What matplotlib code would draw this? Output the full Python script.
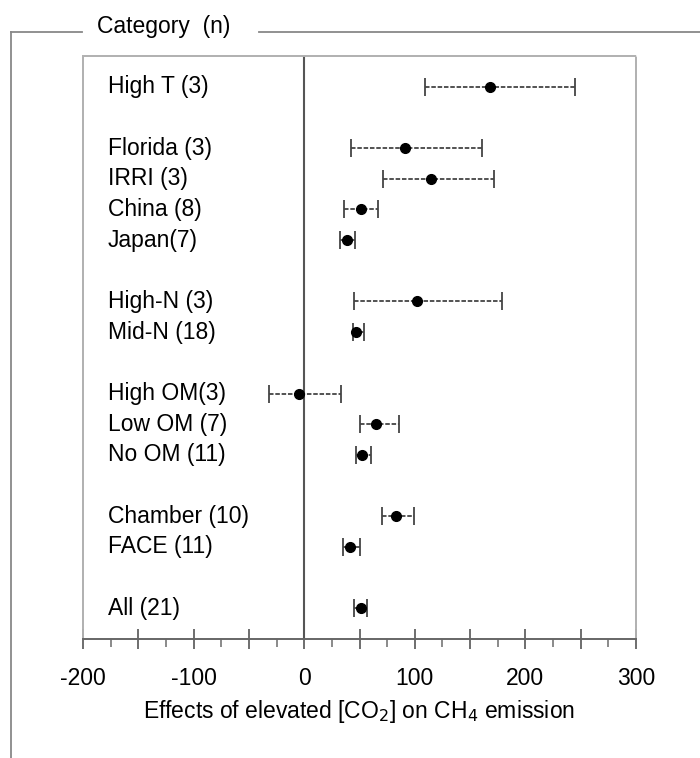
import matplotlib
matplotlib.use("Agg")
import matplotlib.pyplot as plt
from matplotlib.lines import Line2D
from matplotlib.ticker import MultipleLocator

plt.rcParams["font.family"] = ["Liberation Sans", "DejaVu Sans"]

# categories, grouped (a blank row is left between groups)
groups = [
    ["High T (3)"],
    ["Florida (3)", "IRRI (3)", "China (8)", "Japan(7)"],
    ["High-N (3)", "Mid-N (18)"],
    ["High OM(3)", "Low OM (7)", "No OM (11)"],
    ["Chamber (10)", "FACE (11)"],
    ["All (21)"],
]
means = [168, 91, 115, 51, 39, 102, 47, -5, 65, 52, 83, 41, 51]
lower = [109, 42, 71, 36, 32, 45, 44, -32, 50, 47, 70, 35, 45]
upper = [245, 161, 172, 67, 46, 179, 54, 33, 86, 60, 99, 50, 57]
tick_values = [-200, -100, 0, 100, 200, 300]

labels = []
rows = []
r = 0
for g in groups:
    for name in g:
        labels.append(name)
        rows.append(r)
        r += 1
    r += 1
n_rows = r - 1

FS = 16.5
W, H = 700, 758
fig = plt.figure(figsize=(7, 7.58), dpi=100)
ax = fig.add_axes([83 / W, 1 - 639 / H, (636 - 83) / W, (639 - 56) / H])

err = [[m - lo for m, lo in zip(means, lower)], [hi - m for m, hi in zip(means, upper)]]
line, caps, bars = ax.errorbar(means, rows, xerr=err, fmt="o", color="black", ms=7,
                               ecolor="#444444", elinewidth=1.3, capsize=6.5, capthick=1.3)
bars[0].set_linestyle((0, (2.5, 1)))

ax.axvline(0, color="#555555", lw=1.5, zorder=0)

# category names sit inside the axes, left aligned
for name, yy in zip(labels, rows):
    ax.annotate(name, xy=(108 / W, yy), xycoords=("figure fraction", "data"),
                fontsize=FS, va="center", ha="left")

ax.set_xlim(-200, 300)
ax.set_ylim(n_rows, -1)
ax.set_yticks([])
ax.xaxis.set_major_locator(MultipleLocator(50))
ax.xaxis.set_minor_locator(MultipleLocator(25))
ax.set_xticks(range(-200, 301, 50))
ax.set_xticklabels([str(v) if v in tick_values else "" for v in range(-200, 301, 50)])
ax.tick_params(axis="x", which="major", direction="inout", length=14, width=1.2,
               color="#555555", labelsize=FS, pad=13)
ax.tick_params(axis="x", which="minor", direction="out", length=6, width=1.2, color="#777777")
ax.set_xlabel("Effects of elevated [CO$_2$] on CH$_4$ emission", fontsize=FS, labelpad=6)

for s in ["left", "top", "right"]:
    ax.spines[s].set_color("#b0b0b0")
    ax.spines[s].set_linestyle((0, (2, 1)))
    ax.spines[s].set_linewidth(1.4)
ax.spines["bottom"].set_color("#666666")
ax.spines["bottom"].set_linewidth(1.4)

# outer bracket with title
kw = dict(color="#888888", lw=1.3, transform=fig.transFigure)
fig.add_artist(Line2D([11 / W, 11 / W], [1 - 32 / H, 0], **kw))
fig.add_artist(Line2D([11 / W, 82 / W], [1 - 32 / H, 1 - 32 / H], **kw))
fig.add_artist(Line2D([259 / W, 1], [1 - 32 / H, 1 - 32 / H], **kw))
fig.text(97 / W, 1 - 27 / H, "Category  (n)", fontsize=FS, ha="left", va="center")

plt.savefig("out.png", dpi=100)
